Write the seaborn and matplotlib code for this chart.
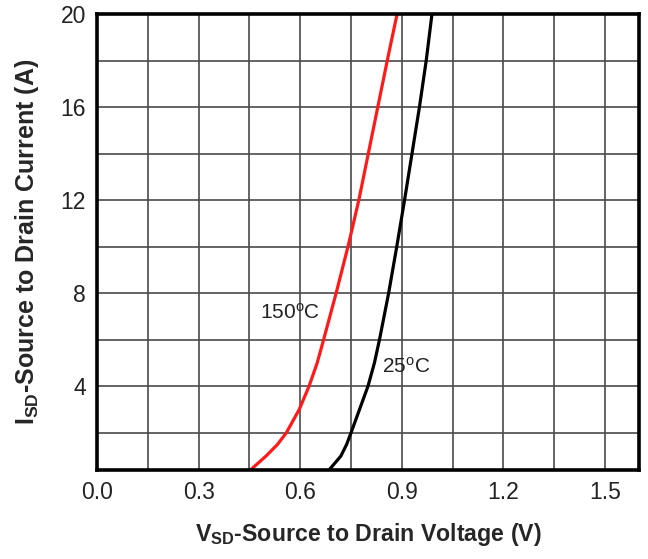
import matplotlib
matplotlib.use("Agg")
import matplotlib.pyplot as plt
import seaborn as sns
import pandas as pd
from matplotlib.ticker import MultipleLocator

# Data
current_A = [0.4, 1, 1.5, 2, 3, 4, 5, 6, 8, 10, 12, 14, 16, 18, 20]
v_150C = [0.453, 0.499, 0.533, 0.559, 0.597, 0.626, 0.650, 0.669, 0.706, 0.741, 0.773, 0.801, 0.829, 0.857, 0.886]
v_25C = [0.685, 0.720, 0.737, 0.750, 0.775, 0.800, 0.819, 0.834, 0.861, 0.885, 0.908, 0.930, 0.952, 0.972, 0.989]
x_ticks = [0.0, 0.3, 0.6, 0.9, 1.2, 1.5]
x_tick_labels = ["0.0", "0.3", "0.6", "0.9", "1.2", "1.5"]
y_ticks = [4, 8, 12, 16, 20]
y_tick_labels = ["4", "8", "12", "16", "20"]

sns.set_style("white")
plt.rcParams["font.family"] = ["Liberation Sans", "DejaVu Sans"]
plt.rcParams["mathtext.fontset"] = "custom"
plt.rcParams["mathtext.rm"] = "Liberation Sans"
plt.rcParams["mathtext.bf"] = "Liberation Sans:bold"
plt.rcParams["mathtext.it"] = "Liberation Sans:italic"

df150 = pd.DataFrame({"V": v_150C, "I": current_A})
df25 = pd.DataFrame({"V": v_25C, "I": current_A})

fig = plt.figure(figsize=(6.48, 5.59), dpi=100)
ax = fig.add_axes([0.1497, 0.1592, 0.8363, 0.8158])

ax.set_xlim(0, 1.6)
ax.set_ylim(0.4, 20)
ax.xaxis.set_minor_locator(MultipleLocator(0.15))
ax.yaxis.set_minor_locator(MultipleLocator(2))
ax.grid(which="both", color="#4a4a4a", linewidth=1.2)
ax.set_axisbelow(True)

line_kw = dict(linewidth=2.3, estimator=None, sort=False, solid_joinstyle="round", solid_capstyle="round")
sns.lineplot(data=df150, x="V", y="I", color="#ff1a1a", ax=ax, **line_kw)
sns.lineplot(data=df25, x="V", y="I", color="black", ax=ax, **line_kw)

ax.set_xticks(x_ticks)
ax.set_xticklabels(x_tick_labels)
ax.set_yticks(y_ticks)
ax.set_yticklabels(y_tick_labels)
ax.tick_params(which="both", length=0, labelsize=16.5, colors="#222222", pad=8)

for s in ax.spines.values():
    s.set_color("black")
    s.set_linewidth(2.6)

ax.text(0.569, 7.14, r"150$^{\mathrm{o}}$C", fontsize=15, color="#222222", ha="center", va="center")
ax.text(0.914, 4.82, r"25$^{\mathrm{o}}$C", fontsize=15, color="#222222", ha="center", va="center")

ax.set_xlabel(r"V$_{\mathbf{SD}}$-Source to Drain Voltage (V)", fontsize=16.7, fontweight="bold", labelpad=12)
ax.set_ylabel(r"I$_{\mathbf{SD}}$-Source to Drain Current (A)", fontsize=18, fontweight="bold", labelpad=14)

fig.savefig("out.png", dpi=100)
